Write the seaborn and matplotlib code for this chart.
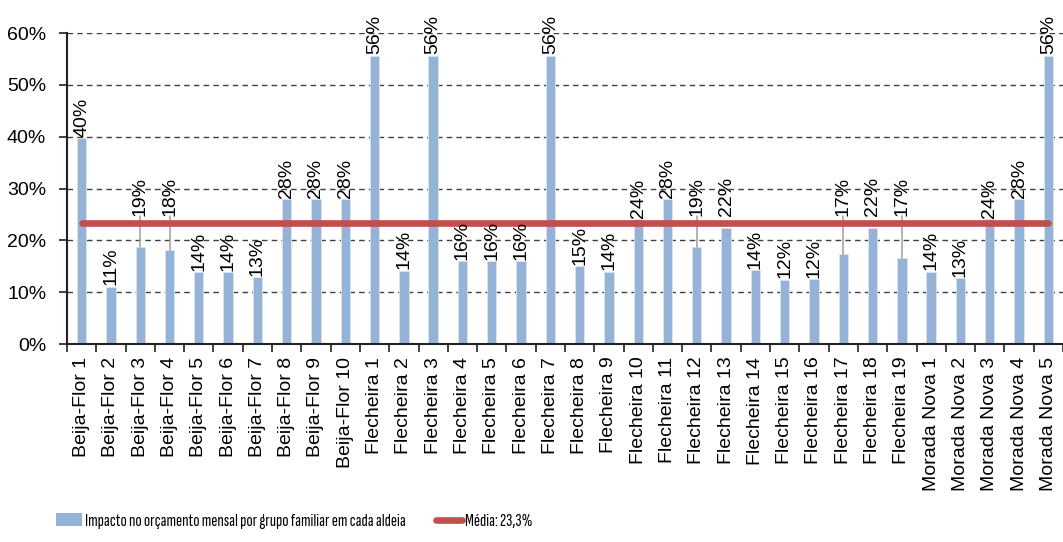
import matplotlib
matplotlib.use("Agg")
import matplotlib.pyplot as plt
import matplotlib.font_manager as fm
from matplotlib.lines import Line2D
from matplotlib.patches import Patch
from matplotlib.ticker import FixedLocator, PercentFormatter
import numpy as np
import seaborn as sns

# ---- data -------------------------------------------------------------
aldeias = (
    [f"Beija-Flor {i}" for i in range(1, 11)]
    + [f"Flecheira {i}" for i in range(1, 20)]
    + [f"Morada Nova {i}" for i in range(1, 6)]
)
impacto = [
    0.397, 0.111, 0.187, 0.181, 0.139, 0.139, 0.129, 0.280, 0.280, 0.280,   # Beija-Flor
    0.556, 0.142, 0.556, 0.160, 0.160, 0.160, 0.556, 0.150, 0.140, 0.241,   # Flecheira 1-10
    0.280, 0.187, 0.225, 0.143, 0.124, 0.125, 0.173, 0.225, 0.167,          # Flecheira 11-19
    0.140, 0.127, 0.241, 0.280, 0.556,                                      # Morada Nova
]
media = 0.233
serie_label = "Impacto no orçamento mensal por grupo familiar em cada aldeia"
media_label = "Média: 23,3%"

BAR_COLOR = "#95B3D7"
LINE_COLOR = "#C0504D"
LINE_W = 4.8
FS = 14

sns.set_theme(style="white", rc={"text.color": "black", "xtick.color": "black",
                                 "ytick.color": "black"})
plt.rcParams["font.family"] = ["Liberation Sans", "DejaVu Sans"]

fig = plt.figure(figsize=(10.63, 5.42), dpi=100)
ax = fig.add_axes([0.063, 0.365, 0.937, 0.574])

sns.barplot(x=aldeias, y=impacto, color=BAR_COLOR, saturation=1, width=0.32,
            edgecolor="#dbe5f1", linewidth=0.6, ax=ax, zorder=2)
ax.plot(aldeias, [media] * len(aldeias), color=LINE_COLOR, lw=LINE_W,
        solid_capstyle="round", zorder=3)

n = len(aldeias)
ax.set_xlim(-0.5, n - 0.5)
ax.set_ylim(0, 0.6)
ax.yaxis.set_major_locator(FixedLocator(np.arange(0, 0.61, 0.1)))
ax.yaxis.set_major_formatter(PercentFormatter(1.0, decimals=0))
ax.grid(axis="y", linestyle=(0, (4, 3)), color="#404040", lw=1.0, zorder=0)
ax.set_axisbelow(True)

# Excel-style category ticks between bars
ax.xaxis.set_minor_locator(FixedLocator(np.arange(-0.5, n, 1.0)))
ax.tick_params(axis="x", which="major", length=0, pad=9, labelsize=FS,
               rotation=90)
ax.tick_params(axis="x", which="minor", length=6, width=1.2, color="#222222",
               direction="out", bottom=True)
ax.tick_params(axis="y", length=6, width=1.2, color="#222222",
               direction="out", left=True, labelsize=FS, pad=9)

for s in ["top", "right"]:
    ax.spines[s].set_visible(False)
for s in ["left", "bottom"]:
    ax.spines[s].set_color("#222222")
    ax.spines[s].set_linewidth(1.5)
ax.set_xlabel("")
ax.set_ylabel("")

# value labels; ones that would sit across the mean line are lifted above it
# with a grey leader line, as Excel did
labels = []
for bar, v in zip(ax.containers[0], impacto):
    x = bar.get_x() + bar.get_width() / 2
    t = ax.annotate(f"{v:.0%}", (x, bar.get_height()), xytext=(0, 1),
                    textcoords="offset points", rotation=90, ha="center",
                    va="bottom", fontsize=FS, zorder=4)
    labels.append((t, x, bar.get_height()))

fig.canvas.draw()
r = fig.canvas.get_renderer()
line_y = ax.transData.transform((0, media))[1]
half = LINE_W * fig.dpi / 72 / 2
lift_px = half + 4
for t, x, top in labels:
    bb = t.get_window_extent(r)
    if bb.y0 < line_y < bb.y1 - 3:
        t.xy = (x, media)
        t.xyann = (0, lift_px * 72 / fig.dpi)
        label_bottom = ax.transData.inverted().transform((0, line_y + lift_px))[1]
        top_px = ax.transData.transform((0, top))[1]
        if line_y + lift_px - top_px > 20:
            ax.plot([x, x], [top, label_bottom], color="#A6A6A6", lw=1.2, zorder=2.5)

# legend text is condensed in the original (Arial Narrow-ish)
prop = fm.FontProperties(family=["Sofia Sans Extra Condensed", "Sofia Sans Condensed",
                                 "Liberation Sans"])
probe = fig.text(0, 0, serie_label, fontproperties=prop, size=11)
w = probe.get_window_extent(r).width
probe.remove()
leg_size = min(14, 11 * 320 / w)
px = leg_size * 100 / 72
prop.set_size(leg_size)

handles = [Patch(facecolor=BAR_COLOR, edgecolor="none"),
           Line2D([0], [0], color=LINE_COLOR, lw=LINE_W, solid_capstyle="round")]
fig.legend(handles, [serie_label, media_label], ncol=2, frameon=False,
           loc="center left", bbox_to_anchor=(56 / 1063, 1 - 521 / 542),
           prop=prop, handlelength=26 / px, handleheight=0.7,
           handletextpad=3 / px, columnspacing=30 / px,
           borderpad=0, borderaxespad=0)

fig.savefig("out.png", dpi=100)
